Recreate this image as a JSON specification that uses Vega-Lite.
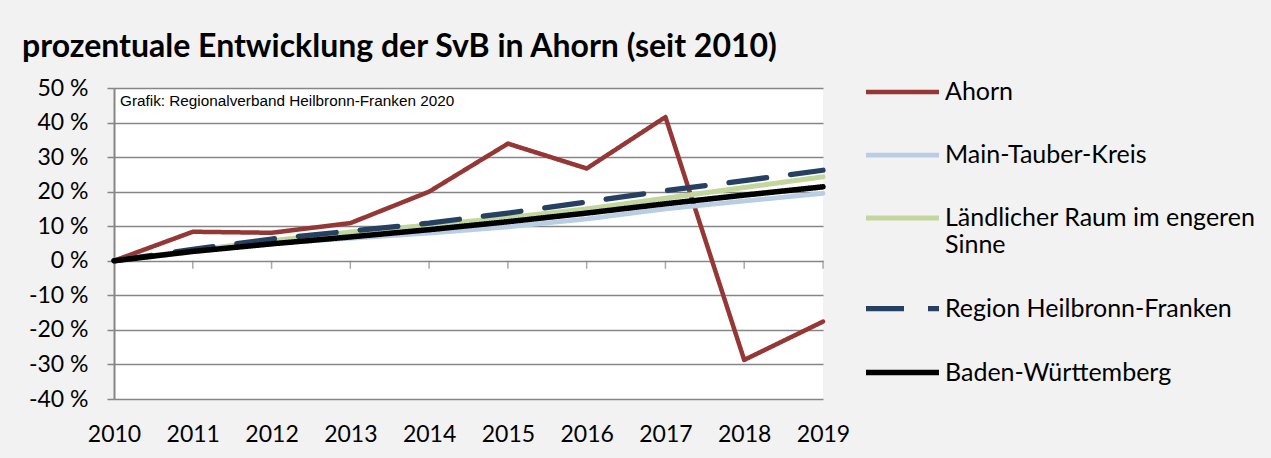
{
  "$schema": "https://vega.github.io/schema/vega-lite/v6.json",
  "width": 709,
  "height": 311,
  "autosize": {"type": "none"},
  "padding": {"left": 114, "top": 88, "right": 448, "bottom": 59},
  "background": "#f2f2f2",
  "title": {
    "text": "prozentuale Entwicklung der SvB in Ahorn (seit 2010)",
    "anchor": "start",
    "frame": "group",
    "dx": -92,
    "offset": -11,
    "font": "Lato",
    "fontSize": 32,
    "fontWeight": "bold",
    "color": "#000000"
  },
  "data": {
    "values": [
      {"series": "Ahorn", "year": 2010, "value": 0},
      {"series": "Ahorn", "year": 2011, "value": 8.4},
      {"series": "Ahorn", "year": 2012, "value": 8.1},
      {"series": "Ahorn", "year": 2013, "value": 10.9},
      {"series": "Ahorn", "year": 2014, "value": 20.0},
      {"series": "Ahorn", "year": 2015, "value": 33.9},
      {"series": "Ahorn", "year": 2016, "value": 26.7},
      {"series": "Ahorn", "year": 2017, "value": 41.6},
      {"series": "Ahorn", "year": 2018, "value": -28.7},
      {"series": "Ahorn", "year": 2019, "value": -17.6},
      {"series": "Main-Tauber-Kreis", "year": 2010, "value": 0},
      {"series": "Main-Tauber-Kreis", "year": 2011, "value": 2.8},
      {"series": "Main-Tauber-Kreis", "year": 2012, "value": 5.0},
      {"series": "Main-Tauber-Kreis", "year": 2013, "value": 6.5},
      {"series": "Main-Tauber-Kreis", "year": 2014, "value": 8.0},
      {"series": "Main-Tauber-Kreis", "year": 2015, "value": 9.8},
      {"series": "Main-Tauber-Kreis", "year": 2016, "value": 12.1},
      {"series": "Main-Tauber-Kreis", "year": 2017, "value": 15.0},
      {"series": "Main-Tauber-Kreis", "year": 2018, "value": 17.3},
      {"series": "Main-Tauber-Kreis", "year": 2019, "value": 19.5},
      {"series": "Ländlicher Raum im engeren Sinne", "year": 2010, "value": 0},
      {"series": "Ländlicher Raum im engeren Sinne", "year": 2011, "value": 3.0},
      {"series": "Ländlicher Raum im engeren Sinne", "year": 2012, "value": 5.8},
      {"series": "Ländlicher Raum im engeren Sinne", "year": 2013, "value": 8.3},
      {"series": "Ländlicher Raum im engeren Sinne", "year": 2014, "value": 10.3},
      {"series": "Ländlicher Raum im engeren Sinne", "year": 2015, "value": 12.5},
      {"series": "Ländlicher Raum im engeren Sinne", "year": 2016, "value": 15.0},
      {"series": "Ländlicher Raum im engeren Sinne", "year": 2017, "value": 18.1},
      {"series": "Ländlicher Raum im engeren Sinne", "year": 2018, "value": 21.2},
      {"series": "Ländlicher Raum im engeren Sinne", "year": 2019, "value": 24.3},
      {"series": "Region Heilbronn-Franken", "year": 2010, "value": 0},
      {"series": "Region Heilbronn-Franken", "year": 2011, "value": 3.3},
      {"series": "Region Heilbronn-Franken", "year": 2012, "value": 6.3},
      {"series": "Region Heilbronn-Franken", "year": 2013, "value": 8.6},
      {"series": "Region Heilbronn-Franken", "year": 2014, "value": 10.9},
      {"series": "Region Heilbronn-Franken", "year": 2015, "value": 13.8},
      {"series": "Region Heilbronn-Franken", "year": 2016, "value": 17.0},
      {"series": "Region Heilbronn-Franken", "year": 2017, "value": 20.3},
      {"series": "Region Heilbronn-Franken", "year": 2018, "value": 23.2},
      {"series": "Region Heilbronn-Franken", "year": 2019, "value": 26.2},
      {"series": "Baden-Württemberg", "year": 2010, "value": 0},
      {"series": "Baden-Württemberg", "year": 2011, "value": 2.7},
      {"series": "Baden-Württemberg", "year": 2012, "value": 4.9},
      {"series": "Baden-Württemberg", "year": 2013, "value": 6.9},
      {"series": "Baden-Württemberg", "year": 2014, "value": 9.0},
      {"series": "Baden-Württemberg", "year": 2015, "value": 11.3},
      {"series": "Baden-Württemberg", "year": 2016, "value": 13.8},
      {"series": "Baden-Württemberg", "year": 2017, "value": 16.5},
      {"series": "Baden-Württemberg", "year": 2018, "value": 19.0},
      {"series": "Baden-Württemberg", "year": 2019, "value": 21.4}
    ]
  },
  "layer": [
    {
      "mark": {"type": "line", "strokeCap": "round", "strokeJoin": "round"},
      "encoding": {
        "x": {
          "field": "year", "type": "quantitative",
          "scale": {"domain": [2010, 2019], "nice": false, "zero": false},
          "axis": {
            "values": [2010, 2011, 2012, 2013, 2014, 2015, 2016, 2017, 2018, 2019],
            "format": "d", "domain": false, "ticks": false, "grid": false,
            "labelFont": "Lato", "labelFontSize": 23, "labelColor": "#000000",
            "labelPadding": 24, "labelFlush": false, "labelOverlap": false, "title": null
          }
        },
        "y": {
          "field": "value", "type": "quantitative",
          "scale": {"domain": [-40, 50], "nice": false, "zero": false},
          "axis": {
            "values": [-40, -30, -20, -10, 0, 10, 20, 30, 40, 50],
            "labelExpr": "datum.value + ' %'",
            "labelFont": "Lato", "labelFontSize": 23, "labelColor": "#000000",
            "labelOverlap": false, "labelFlush": false,
            "labelPadding": 19, "tickSize": 7, "tickColor": "#868686", "tickWidth": 1.5,
            "domainColor": "#868686", "domainWidth": 2,
            "grid": true, "gridColor": "#868686", "gridWidth": 1.5,
            "title": null
          }
        },
        "color": {
          "field": "series", "type": "nominal",
          "scale": {
            "domain": ["Ahorn", "Main-Tauber-Kreis", "Ländlicher Raum im engeren Sinne", "Region Heilbronn-Franken", "Baden-Württemberg"],
            "range": ["#953735", "#b9cde5", "#c3d69b", "#254061", "#000000"]
          },
          "legend": {
            "title": null,
            "orient": "none",
            "legendX": 749,
            "legendY": -35,
            "symbolType": "stroke",
            "symbolSize": 5329,
            "symbolStrokeWidth": 5,
            "labelFont": "Lato",
            "labelFontSize": 25,
            "labelColor": "#000000",
            "labelOffset": 3,
            "labelLimit": 400,
            "rowPadding": 11,
            "gridAlign": "each",
            "labelExpr": "datum.label == 'Ländlicher Raum im engeren Sinne' ? ['Ländlicher Raum im engeren', 'Sinne'] : datum.label"
          }
        },
        "strokeDash": {
          "field": "series", "type": "nominal",
          "scale": {
            "domain": ["Ahorn", "Main-Tauber-Kreis", "Ländlicher Raum im engeren Sinne", "Region Heilbronn-Franken", "Baden-Württemberg"],
            "range": [[1, 0], [1, 0], [1, 0], [38, 24], [1, 0]]
          },
          "legend": null
        },
        "strokeWidth": {
          "field": "series", "type": "nominal",
          "scale": {
            "domain": ["Ahorn", "Main-Tauber-Kreis", "Ländlicher Raum im engeren Sinne", "Region Heilbronn-Franken", "Baden-Württemberg"],
            "range": [4.5, 5.5, 5, 5, 6]
          },
          "legend": null
        }
      }
    },
    {
      "transform": [{"filter": "datum.series == 'Ahorn' && datum.year > 2010"}],
      "mark": {"type": "tick", "orient": "vertical", "color": "#868686", "thickness": 1.5, "size": 8, "yOffset": 4},
      "encoding": {
        "x": {
          "field": "year", "type": "quantitative",
          "axis": {
            "values": [2010, 2011, 2012, 2013, 2014, 2015, 2016, 2017, 2018, 2019],
            "format": "d", "domain": false, "ticks": false, "grid": false,
            "labelFont": "Lato", "labelFontSize": 23, "labelColor": "#000000",
            "labelPadding": 24, "labelFlush": false, "labelOverlap": false, "title": null
          }
        },
        "y": {
          "datum": 0,
          "axis": {
            "values": [-40, -30, -20, -10, 0, 10, 20, 30, 40, 50],
            "labelExpr": "datum.value + ' %'",
            "labelFont": "Lato", "labelFontSize": 23, "labelColor": "#000000",
            "labelOverlap": false, "labelFlush": false,
            "labelPadding": 19, "tickSize": 7, "tickColor": "#868686", "tickWidth": 1.5,
            "domainColor": "#868686", "domainWidth": 2,
            "grid": true, "gridColor": "#868686", "gridWidth": 1.5,
            "title": null
          }
        }
      }
    },
    {
      "data": {"values": [{"note": "Grafik: Regionalverband Heilbronn-Franken 2020"}]},
      "mark": {"type": "text", "align": "left", "baseline": "middle", "dx": 6, "dy": 13, "font": "Liberation Sans", "fontSize": 15.3, "color": "#000000"},
      "encoding": {
        "x": {
          "datum": 2010,
          "axis": {
            "values": [2010, 2011, 2012, 2013, 2014, 2015, 2016, 2017, 2018, 2019],
            "format": "d", "domain": false, "ticks": false, "grid": false,
            "labelFont": "Lato", "labelFontSize": 23, "labelColor": "#000000",
            "labelPadding": 24, "labelFlush": false, "labelOverlap": false, "title": null
          }
        },
        "y": {
          "datum": 50,
          "axis": {
            "values": [-40, -30, -20, -10, 0, 10, 20, 30, 40, 50],
            "labelExpr": "datum.value + ' %'",
            "labelFont": "Lato", "labelFontSize": 23, "labelColor": "#000000",
            "labelOverlap": false, "labelFlush": false,
            "labelPadding": 19, "tickSize": 7, "tickColor": "#868686", "tickWidth": 1.5,
            "domainColor": "#868686", "domainWidth": 2,
            "grid": true, "gridColor": "#868686", "gridWidth": 1.5,
            "title": null
          }
        },
        "text": {"field": "note", "type": "nominal"}
      }
    }
  ],
  "config": {
    "view": {"fill": "#ffffff", "stroke": null}
  }
}
